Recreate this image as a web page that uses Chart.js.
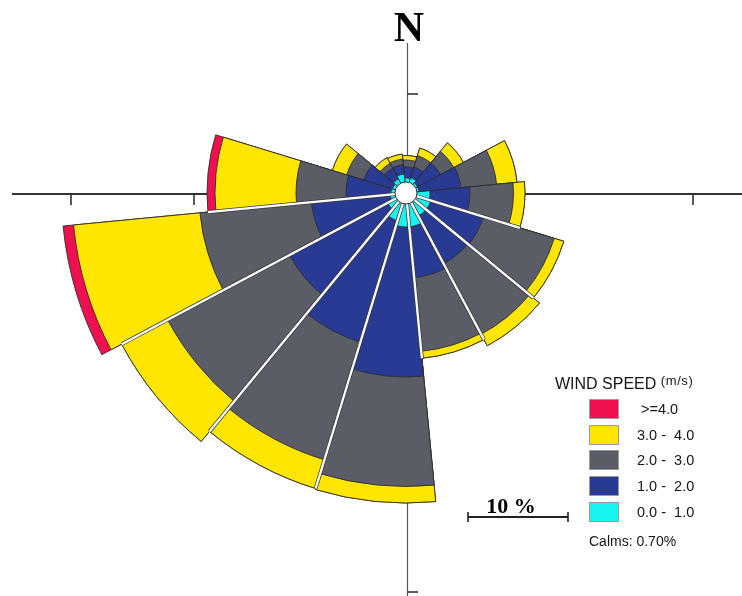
<!DOCTYPE html>
<html lang="en">
<head>
<meta charset="UTF-8">
<title>Wind Rose</title>
<script src="https://cdn.jsdelivr.net/npm/chart.js"></script>
<style>
  html, body { margin: 0; padding: 0; background: #fff; overflow: hidden; }
  #wrap { position: relative; width: 742px; height: 596px; }
  #rose { position: absolute; left: 0; top: 0; }
  #legend { position: absolute; left: 0; top: 0; font-family: "Liberation Sans", Arial, sans-serif; color: #151515; }
  #legend div { position: absolute; white-space: pre; }
  .title { font-size: 16px; line-height: 20px; }
  .title span { font-size: 13px; vertical-align: 4px; letter-spacing: 0.6px; }
  .box { width: 30px; height: 20px; box-sizing: border-box; border: 1px solid #9a9a9a; }
  .lbl { font-size: 14.5px; line-height: 20px; }
  .calm { font-size: 14px; line-height: 20px; }
</style>
</head>
<body>
<div id="wrap">
  <canvas id="rose" width="742" height="596"></canvas>
  <div id="legend"></div>
</div>

<script>
// frequency (%) per direction and wind speed class
const directions = ['N', 'NNE', 'NE', 'ENE', 'E', 'ESE', 'SE', 'SSE', 'S', 'SSW', 'SW', 'WSW', 'W', 'WNW', 'NW', 'NNW'];
const speed01 = [0.4, 0.5, 0.2, 0.2, 1.3, 1.5, 1.5, 2.3, 2.3, 1.8, 1.0, 0.5, 0.4, 0.3, 0.5, 0.8];
const speed12 = [1.1, 1.1, 2.6, 4.2, 4.0, 5.5, 5.4, 5.1, 15.0, 12.7, 11.1, 7.9, 4.5, 3.0, 1.2, 0.95];
const speed23 = [0.7, 1.2, 1.5, 3.6, 4.35, 7.4, 8.0, 7.4, 10.95, 12.3, 13.8, 11.2, 5.0, 1.8, 0.55, 0.55];
const speed34 = [0.45, 0.8, 1.1, 2.05, 1.15, 1.0, 1.3, 0.7, 1.65, 3.0, 5.2, 12.7, 8.1, 1.5, 0.65, 0.5];
const speed4 = [0, 0, 0, 0, 0, 0, 0, 0, 0, 0, 0, 1.05, 0.8, 0, 0, 0];

const classLabels = ['0.0 -  1.0', '1.0 -  2.0', '2.0 -  3.0', '3.0 -  4.0', ' >=4.0'];
const classColors = ['#16f4f2', '#283a93', '#5a5d66', '#ffe600', '#f0104f'];
const calms = 0.70;

// axis tick marks, in % from the calm circle
const ticksN = [8.8];
const ticksS = [38.8];
const ticksW = [20.1, 32.4];
const ticksE = [27.6];

const classes = [speed01, speed12, speed23, speed34, speed4];

// polar area arcs all start at the centre, so each class is drawn as a running total
const stacked = classes.map((_, k) =>
  directions.map((d, i) => classes.slice(0, k + 1).reduce((s, c) => s + c[i], 0))
);
const totals = stacked[stacked.length - 1];

function line(ctx, x1, y1, x2, y2) {
  ctx.beginPath();
  ctx.moveTo(x1, y1);
  ctx.lineTo(x2, y2);
  ctx.stroke();
}

const roseExtras = {
  id: 'roseExtras',
  beforeDatasetsDraw(chart) {
    const ctx = chart.ctx, r = chart.scales.r;
    const cx = r.xCenter, cy = r.yCenter;
    const d = v => r.getDistanceFromCenterForValue(v);
    ctx.save();
    ctx.strokeStyle = '#333';
    ctx.lineWidth = 2;
    line(ctx, 12, cy + 1, chart.width, cy + 1);
    ctx.strokeStyle = '#555';
    ctx.lineWidth = 1.2;
    line(ctx, cx + 1.5, 43, cx + 1.5, chart.height);

    ctx.strokeStyle = '#333';
    ctx.lineWidth = 1.6;
    ticksW.forEach(v => line(ctx, cx - d(v), cy + 1, cx - d(v), cy + 12));
    ticksE.forEach(v => line(ctx, cx + d(v), cy + 1, cx + d(v), cy + 12));
    ticksN.forEach(v => line(ctx, cx + 1.5, cy - d(v), cx + 12, cy - d(v)));
    ticksS.forEach(v => line(ctx, cx + 1.5, cy + d(v), cx + 12, cy + d(v)));
    ctx.restore();
  },
  afterDatasetsDraw(chart) {
    const ctx = chart.ctx, r = chart.scales.r;
    const cx = r.xCenter, cy = r.yCenter;
    const d = v => r.getDistanceFromCenterForValue(v);
    const n = directions.length;
    ctx.save();
    // white gaps between the long bars
    for (let i = 0; i < n; i++) {
      const prev = (i + n - 1) % n;
      const shorter = Math.min(totals[i], totals[prev]);
      if (shorter < 10.5) continue;
      const a = r.getIndexAngle(i) - Math.PI / 2;
      const r0 = d(0), r1 = d(shorter);
      const x0 = cx + Math.cos(a) * r0, y0 = cy + Math.sin(a) * r0;
      const x1 = cx + Math.cos(a) * r1, y1 = cy + Math.sin(a) * r1;
      ctx.strokeStyle = '#3a3a3a';
      ctx.lineWidth = 3.8;
      line(ctx, x0, y0, x1, y1);
      ctx.strokeStyle = '#fff';
      ctx.lineWidth = 2.3;
      line(ctx, x0, y0, x1, y1);
    }
    // calm circle
    ctx.beginPath();
    ctx.arc(cx, cy, d(0), 0, Math.PI * 2);
    ctx.fillStyle = '#fff';
    ctx.fill();
    ctx.strokeStyle = '#333';
    ctx.lineWidth = 1;
    ctx.stroke();
    ctx.restore();
  },
  afterDraw(chart) {
    const ctx = chart.ctx, r = chart.scales.r;
    const cx = r.xCenter;
    ctx.save();
    ctx.fillStyle = '#000';
    ctx.font = 'bold 42px "Liberation Serif", serif';
    ctx.textAlign = 'center';
    ctx.fillText('N', cx + 3, 41);

    // 10 % scale bar
    const len = r.getDistanceFromCenterForValue(10) - r.getDistanceFromCenterForValue(0);
    const x0 = 468, y = 517;
    ctx.strokeStyle = '#222';
    ctx.lineWidth = 2;
    line(ctx, x0, y, x0 + len, y);
    ctx.lineWidth = 1.6;
    line(ctx, x0, y - 5, x0, y + 5);
    line(ctx, x0 + len, y - 5, x0 + len, y + 5);
    ctx.font = 'bold 22px "Liberation Serif", serif';
    ctx.fillText('10 %', x0 + len / 2 - 7, 513);
    ctx.restore();
  }
};

new Chart(document.getElementById('rose'), {
  type: 'polarArea',
  data: {
    labels: directions,
    datasets: stacked.map((data, k) => ({
      label: classLabels[k],
      data: data,
      backgroundColor: classColors[k],
      borderColor: '#2e2e2e',
      borderWidth: 0.9,
      clip: false
    }))
  },
  options: {
    responsive: false,
    maintainAspectRatio: false,
    animation: false,
    events: [],
    layout: { padding: { left: 216, right: 146, top: 3, bottom: 213 } },
    plugins: { legend: { display: false }, tooltip: { enabled: false } },
    scales: {
      r: {
        display: false,
        min: -1.1,
        max: 17.9,
        startAngle: -5.5
      }
    }
  },
  plugins: [roseExtras]
});

// legend
const legend = document.getElementById('legend');
function addDiv(cls, left, top, html, bg) {
  const el = document.createElement('div');
  el.className = cls;
  el.style.left = left + 'px';
  el.style.top = top + 'px';
  if (html) el.innerHTML = html;
  if (bg) el.style.background = bg;
  legend.appendChild(el);
}
addDiv('title', 555, 371, 'WIND SPEED <span>(m/s)</span>');
for (let k = classes.length - 1; k >= 0; k--) {
  const top = 399 + (classes.length - 1 - k) * 25.7;
  addDiv('box', 589, top, '', classColors[k]);
  addDiv('lbl', 637, top, classLabels[k]);
}
addDiv('calm', 589, 531, 'Calms: ' + calms.toFixed(2) + '%');
</script>
</body>
</html>
